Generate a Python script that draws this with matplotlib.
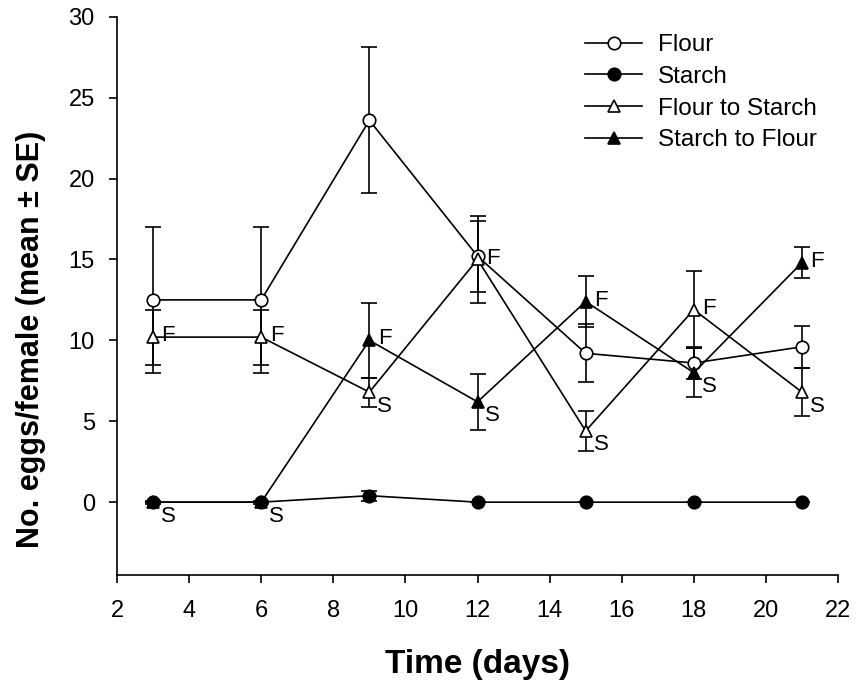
import matplotlib
matplotlib.use("Agg")
import matplotlib.pyplot as plt
from matplotlib.lines import Line2D

plt.rcParams['font.family'] = ['Liberation Sans', 'DejaVu Sans']

days = [3, 6, 9, 12, 15, 18, 21]

flour = [12.5, 12.5, 23.6, 15.2, 9.2, 8.6, 9.6]
flour_se = [4.5, 4.5, 4.5, 2.2, 1.8, 1.0, 1.3]

starch = [0.0, 0.0, 0.4, 0.0, 0.0, 0.0, 0.0]
starch_se = [0.1, 0.1, 0.3, 0.0, 0.0, 0.0, 0.0]

flour_to_starch = [10.2, 10.2, 6.8, 15.0, 4.4, 11.9, 6.8]
flour_to_starch_se = [1.7, 1.7, 0.9, 2.7, 1.25, 2.4, 1.5]
flour_to_starch_lbl = ['F', 'F', 'S', 'F', 'S', 'F', 'S']

starch_to_flour = [0.0, 0.0, 10.0, 6.2, 12.4, 8.0, 14.8]
starch_to_flour_se = [0.0, 0.0, 2.3, 1.75, 1.6, 1.5, 0.95]
starch_to_flour_lbl = ['S', 'S', 'F', 'S', 'F', 'S', 'F']

series_names = ['Flour', 'Starch', 'Flour to Starch', 'Starch to Flour']

fig = plt.figure(figsize=(8.58, 6.91), dpi=100)
ax = fig.add_axes([0.1364, 0.1679, 0.9767 - 0.1364, 0.9758 - 0.1679])

common = dict(color='black', lw=1.2, ms=9, capsize=5.5, elinewidth=1.2,
              capthick=1.2, mec='black', mew=1.2)
styles = [('o', 'white'), ('o', 'black'), ('^', 'white'), ('^', 'black')]
values = [flour, starch, flour_to_starch, starch_to_flour]
errors = [flour_se, starch_se, flour_to_starch_se, starch_to_flour_se]
zs = [3, 4, 3, 3]

handles = []
for name, (m, fc), v, e, z in zip(series_names, styles, values, errors, zs):
    ax.errorbar(days, v, yerr=e, marker=m, mfc=fc, zorder=z, **common)
    handles.append(Line2D([], [], color='black', lw=1.2, marker=m, mfc=fc,
                          mec='black', mew=1.2, ms=9, label=name))

def put_labels(xs, ys, lbls):
    for x, y, t in zip(xs, ys, lbls):
        off = (11, 1) if t == 'F' else (11, -10)
        ax.annotate(t, (x, y), xytext=off, textcoords='offset points',
                    ha='center', va='center', fontsize=16)

put_labels(days, flour_to_starch, flour_to_starch_lbl)
put_labels(days, starch_to_flour, starch_to_flour_lbl)

ax.set_xlim(2, 22)
ax.set_ylim(-4.5, 30)
ax.set_xticks(range(2, 23, 2))
ax.set_yticks(range(0, 31, 5))
ax.spines['top'].set_visible(False)
ax.spines['right'].set_visible(False)
for s in ('left', 'bottom'):
    ax.spines[s].set_linewidth(1.2)
ax.tick_params(direction='out', length=6, width=1.2, labelsize=17)
ax.tick_params(axis='x', pad=12)
ax.tick_params(axis='y', pad=10)

ax.set_xlabel('Time (days)', fontsize=24, fontweight='bold', va='center')
ax.xaxis.set_label_coords(0.5, -0.16)
ax.set_ylabel('No. eggs/female (mean \u00b1 SE)', fontsize=22, fontweight='bold', va='center')
ax.yaxis.set_label_coords(-0.12, 0.4227)

ax.legend(handles=handles, loc='upper left', bbox_to_anchor=(0.649, 0.969),
          frameon=False, fontsize=17.5, handlelength=2.35, labelspacing=0.4,
          handletextpad=0.65, borderpad=0, borderaxespad=0)

fig.savefig('out.png', dpi=100)
